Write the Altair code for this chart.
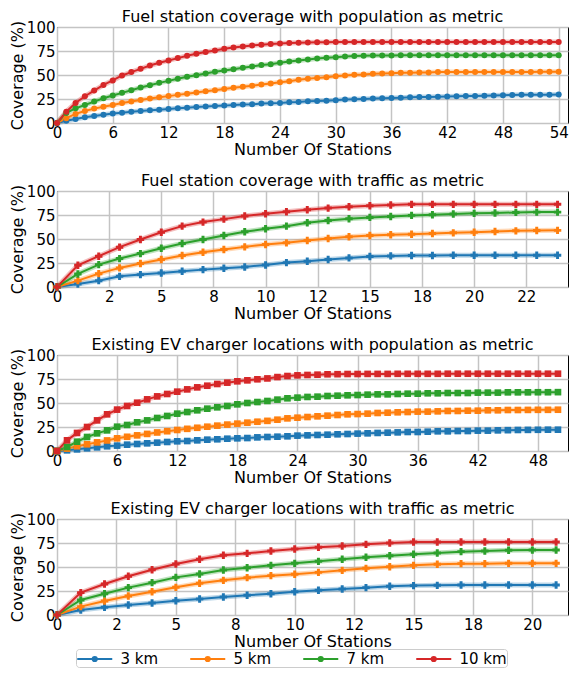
import altair as alt
import pandas as pd

SERIES = ["3 km", "5 km", "7 km", "10 km"]
COLORS = ["#1f77b4", "#ff7f0e", "#2ca02c", "#d62728"]

TITLES = [
    "Fuel station coverage with population as metric",
    "Fuel station coverage with traffic as metric",
    "Existing EV charger locations with population as metric",
    "Existing EV charger locations with traffic as metric",
]
X_TITLE = "Number Of Stations"
Y_TITLE = "Coverage (%)"

# ---- Panel 1: fuel stations, population (stations 0..54)
P1_3KM = [0, 2.4, 4.2, 5.9, 7.3, 8.7, 9.8, 10.8, 11.8, 12.5, 13.2, 13.9, 14.6, 15.3, 16.0,
          16.7, 17.1, 17.8, 18.1, 18.8, 19.2, 19.5, 20.2, 20.6, 20.9, 21.6, 21.9, 22.6, 23.0,
          23.3, 23.7, 24.4, 24.7, 25.1, 25.4, 25.8, 26.1, 26.4, 26.8, 27.0, 27.2, 27.3, 27.5,
          27.9, 28.0, 28.2, 28.4, 28.6, 28.9, 29.1, 29.3, 29.4, 29.5, 29.5, 29.6]
P1_5KM = [0, 5.0, 9.5, 12.5, 15.0, 17.0, 18.8, 20.8, 22.5, 24.0, 25.5, 26.8, 28.0, 29.3, 30.5,
          31.7, 33.0, 34.2, 35.5, 36.6, 37.7, 38.8, 40.0, 41.2, 42.5, 43.6, 45.0, 46.0, 47.0,
          47.7, 48.8, 49.5, 50.2, 50.5, 51.2, 51.6, 51.9, 52.3, 52.3, 52.6, 52.6, 53.0, 53.0,
          53.0, 53.0, 53.1, 53.1, 53.1, 53.2, 53.2, 53.2, 53.2, 53.3, 53.3, 53.3]
P1_7KM = [0, 10.5, 15.3, 18.8, 22.3, 25.8, 28.6, 31.4, 34.1, 36.9, 39.4, 41.8, 43.9, 46.0, 48.1,
          49.8, 51.6, 53.3, 54.7, 56.1, 57.5, 58.9, 60.3, 61.3, 62.7, 64.1, 65.2, 66.2, 67.2,
          67.9, 68.6, 69.3, 69.7, 70.0, 70.2, 70.4, 70.4, 70.5, 70.5, 70.5, 70.5, 70.5, 70.6,
          70.6, 70.6, 70.6, 70.6, 70.6, 70.6, 70.6, 70.6, 70.6, 70.6, 70.6, 70.6]
P1_10KM = [0, 11.8, 20.9, 27.9, 33.8, 39.7, 44.3, 49.5, 53.0, 56.4, 59.9, 62.7, 65.2, 67.6, 70.0,
           72.1, 73.9, 75.6, 77.4, 78.7, 79.8, 80.8, 81.5, 82.2, 82.9, 83.3, 83.6, 83.9, 84.1,
           84.2, 84.3, 84.4, 84.4, 84.4, 84.4, 84.5, 84.5, 84.5, 84.5, 84.5, 84.5, 84.5, 84.5,
           84.5, 84.5, 84.5, 84.5, 84.5, 84.5, 84.5, 84.5, 84.5, 84.5, 84.5, 84.5]

# ---- Panel 2: fuel stations, traffic (stations 0..24)
P2_3KM = [0, 3.1, 6.6, 11.1, 12.9, 14.6, 16.4, 18.1, 19.5, 20.9, 23.0, 25.4, 26.8, 28.6, 30.3,
          31.7, 32.4, 32.8, 32.8, 33.1, 33.1, 33.1, 33.1, 33.1, 33.1]
P2_5KM = [0, 6.6, 13.9, 19.9, 24.4, 28.6, 32.8, 36.2, 39.0, 41.8, 44.3, 46.0, 48.4, 50.5, 52.3,
          53.7, 54.4, 55.0, 55.7, 56.4, 57.1, 57.8, 58.5, 58.8, 59.0]
P2_7KM = [0, 13.6, 23.3, 29.6, 34.8, 40.4, 45.3, 49.5, 53.7, 57.5, 60.6, 63.4, 66.9, 69.3, 71.1,
          72.5, 73.5, 74.6, 75.3, 76.0, 76.7, 77.0, 77.7, 78.0, 78.0]
P2_10KM = [0, 22.6, 32.1, 41.5, 49.5, 57.1, 63.4, 67.6, 70.7, 73.9, 76.3, 78.4, 80.5, 82.2, 83.6,
           84.7, 85.4, 86.1, 86.1, 86.1, 86.1, 86.1, 86.1, 86.1, 86.1]

# ---- Panel 3: EV chargers, population (stations 0..50)
P3_3KM = [0, 0.7, 1.7, 2.8, 3.8, 4.9, 5.6, 6.6, 7.3, 8.0, 8.7, 9.4, 10.1, 10.4, 11.1, 11.8, 12.2,
          12.8, 13.2, 13.5, 14.2, 14.6, 14.9, 15.3, 16.0, 16.3, 16.7, 17.0, 17.4, 17.7, 18.1,
          18.4, 18.8, 19.1, 19.4, 19.8, 19.8, 20.1, 20.5, 20.5, 20.8, 20.8, 21.2, 21.2, 21.5,
          21.7, 21.9, 22.0, 22.1, 22.2, 22.2]
P3_5KM = [0, 2.5, 5.0, 7.0, 9.0, 11.0, 13.2, 14.8, 16.3, 17.8, 19.3, 20.6, 21.9, 23.1, 24.2,
          25.3, 26.4, 27.5, 28.5, 29.5, 30.5, 31.4, 32.6, 34.0, 34.7, 35.4, 36.1, 36.8, 37.5,
          38.2, 38.5, 38.9, 39.6, 39.9, 40.3, 40.6, 41.0, 41.0, 41.3, 41.7, 41.7, 42.0, 42.0,
          42.4, 42.4, 42.7, 42.7, 42.8, 42.9, 42.9, 43.0]
P3_7KM = [0, 4.2, 9.7, 14.6, 18.4, 21.5, 25.3, 27.1, 29.9, 31.9, 34.4, 36.5, 38.9, 40.6, 42.4,
          44.1, 45.5, 46.9, 48.6, 50.0, 51.0, 52.1, 53.5, 54.9, 55.6, 56.3, 56.6, 57.3, 57.6,
          58.0, 58.3, 58.7, 59.0, 59.0, 59.4, 59.7, 59.7, 60.1, 60.1, 60.4, 60.4, 60.4, 60.8,
          60.8, 60.8, 61.1, 61.1, 61.1, 61.2, 61.2, 61.3]
P3_10KM = [0, 11.1, 18.8, 25.0, 31.9, 38.2, 43.1, 46.9, 50.3, 53.8, 56.9, 59.4, 61.8, 64.2,
           66.3, 68.0, 69.8, 71.2, 72.6, 73.6, 74.7, 75.6, 77.0, 78.1, 78.8, 79.2, 79.5, 79.9,
           80.0, 80.2, 80.2, 80.3, 80.3, 80.3, 80.4, 80.4, 80.4, 80.4, 80.4, 80.5, 80.5, 80.5,
           80.5, 80.5, 80.5, 80.5, 80.5, 80.5, 80.5, 80.5, 80.5]

# ---- Panel 4: EV chargers, traffic (stations 0..21)
P4_3KM = [0, 5.2, 8.0, 10.4, 12.5, 14.9, 16.7, 18.8, 20.5, 22.2, 24.3, 25.7, 27.1, 28.5, 29.9,
          30.6, 30.9, 31.3, 31.3, 31.3, 31.3, 31.3]
P4_5KM = [0, 8.7, 14.6, 19.8, 24.3, 28.8, 33.0, 36.1, 38.9, 41.0, 42.4, 44.4, 46.5, 48.6, 50.3,
          51.7, 52.8, 53.5, 53.5, 53.8, 53.8, 53.8]
P4_7KM = [0, 15.6, 22.2, 28.5, 33.7, 39.2, 42.7, 46.9, 49.3, 51.7, 53.8, 55.9, 58.0, 60.1, 61.8,
          63.2, 64.6, 66.0, 66.7, 67.4, 67.6, 67.7]
P4_10KM = [0, 23.3, 32.3, 40.3, 47.2, 53.1, 58.0, 62.2, 64.2, 66.7, 68.8, 70.5, 71.9, 73.6, 75.0,
           76.0, 76.0, 76.0, 76.0, 76.0, 76.0, 76.0]

# ---- x-axis ticks (positions) and their printed labels
X_TICKS_1 = [0, 6, 12, 18, 24, 30, 36, 42, 48, 54]
X_LABELS_1 = ["0", "6", "12", "18", "24", "30", "36", "42", "48", "54"]
X_TICKS_2 = [0, 2.5, 5, 7.5, 10, 12.5, 15, 17.5, 20, 22.5]
X_LABELS_2 = ["0", "2", "5", "8", "10", "12", "15", "18", "20", "22"]
X_TICKS_3 = [0, 6, 12, 18, 24, 30, 36, 42, 48]
X_LABELS_3 = ["0", "6", "12", "18", "24", "30", "36", "42", "48"]
X_TICKS_4 = [0, 2.5, 5, 7.5, 10, 12.5, 15, 17.5, 20]
X_LABELS_4 = ["0", "2", "5", "8", "10", "12", "15", "18", "20"]
Y_TICKS = [0, 25, 50, 75, 100]

PANELS = [
    (TITLES[0], [P1_3KM, P1_5KM, P1_7KM, P1_10KM], X_TICKS_1, X_LABELS_1, 55.0, "circle", 36),
    (TITLES[1], [P2_3KM, P2_5KM, P2_7KM, P2_10KM], X_TICKS_2, X_LABELS_2, 24.5, "cross", 55),
    (TITLES[2], [P3_3KM, P3_5KM, P3_7KM, P3_10KM], X_TICKS_3, X_LABELS_3, 51.0, "square", 44),
    (TITLES[3], [P4_3KM, P4_5KM, P4_7KM, P4_10KM], X_TICKS_4, X_LABELS_4, 21.5, "cross", 55),
]

FONT = "DejaVu Sans"

# legend symbol: a short line with a dot in its middle
_dot = ""
for r in (0.08, 0.16, 0.24):
    _dot += f"M{1 + r},0A{r},{r} 0 1,1 {1 - r},0A{r},{r} 0 1,1 {1 + r},0"
LEGEND_SYMBOL = "M-1,0L3,0" + _dot

color_scale = alt.Scale(domain=SERIES, range=COLORS)
legend = alt.Legend(
    title=None, orient="none", direction="horizontal", legendX=19, legendY=622,
    columns=4, gridAlign="all",
    symbolType=LEGEND_SYMBOL, symbolSize=306.25, symbolStrokeWidth=2, symbolOpacity=1,
    labelOffset=24.5, columnPadding=18, labelFontSize=15, labelFont=FONT,
    labelColor="black", strokeColor="#cccccc", fillColor="white", padding=0,
    cornerRadius=3,
)


def make_panel(title, series_vals, ticks, labels, xmax, shape, size):
    rows = []
    for name, vals in zip(SERIES, series_vals):
        for i, v in enumerate(vals):
            rows.append({"x": i, "y": v, "series": name})
    df = pd.DataFrame(rows)
    label_expr = (
        "[" + ",".join(f"'{l}'" for l in labels) + "]"
        + "[indexof([" + ",".join(str(t) for t in ticks) + "], datum.value)]"
    )
    x = alt.X(
        "x:Q",
        scale=alt.Scale(domain=[0, xmax], nice=False, zero=True),
        axis=alt.Axis(values=ticks, labelExpr=label_expr, title=X_TITLE, titlePadding=1),
    )
    y = alt.Y(
        "y:Q",
        scale=alt.Scale(domain=[0, 100], nice=False),
        axis=alt.Axis(values=Y_TICKS, title=Y_TITLE, titlePadding=1),
    )
    color = alt.Color("series:N", scale=color_scale, sort=SERIES, legend=legend)
    base = alt.Chart(df).encode(x=x, y=y, color=color)
    halo = base.mark_line(strokeWidth=5, opacity=0.3)
    line = base.mark_line(strokeWidth=2)
    pts = base.mark_point(filled=True, shape=shape, size=size, opacity=1)
    return alt.layer(halo, line, pts).properties(
        width=511, height=96,
        title=alt.TitleParams(title, fontSize=16, font=FONT, fontWeight="normal",
                              color="black", offset=-5, anchor="middle", frame="group"),
    )


panels = [make_panel(*p) for p in PANELS]

chart = (
    alt.vconcat(*panels, spacing=14)
    .resolve_scale(color="shared", x="independent")
    .properties(padding={"left": 0, "top": 0, "right": 0, "bottom": 0})
    .configure_view(stroke="black", strokeWidth=1)
    .configure_axis(
        labelFont=FONT, labelFontSize=15, labelColor="black", labelPadding=2,
        titleFont=FONT, titleFontSize=16, titleFontWeight="normal", titleColor="black",
        domain=False, ticks=False, tickSize=0,
        grid=True, gridColor="#c4c4c4", gridWidth=1.5,
        labelFlush=False, labelOverlap=False,
    )
)

chart.save("out.html", embed_options={"renderer": "svg", "actions": False})
